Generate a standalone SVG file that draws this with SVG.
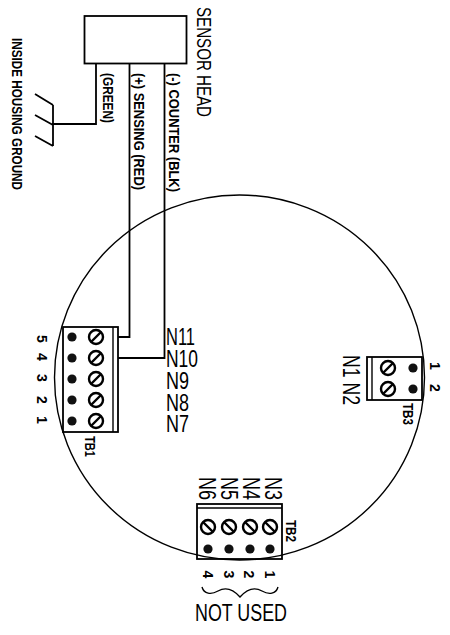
<svg xmlns="http://www.w3.org/2000/svg" width="450" height="635" viewBox="0 0 450 635">
<style>
.l{fill:none;stroke:#000;stroke-width:1.4}
.b{fill:none;stroke:#000;stroke-width:1.8}
text{font-family:"Liberation Sans",sans-serif;fill:#000}
.n{font-size:23.500px}
.h{font-size:15px;font-weight:bold}
.t{font-size:15px;font-weight:bold}
.d{font-size:14px;font-weight:bold;text-anchor:middle}
</style>
<rect width="450" height="635" fill="#fff"/>
<defs>
<g id="screw"><circle r="7" fill="#fff" stroke="#000" stroke-width="2.4"/><path d="M-5 5L5-5" stroke="#000" stroke-width="2.4"/></g>
<g id="screw2"><circle r="7" fill="#fff" stroke="#000" stroke-width="2.4"/><path d="M-5-5L5 5" stroke="#000" stroke-width="2.4"/></g>
<circle id="pin" r="4.600" fill="#111"/>
</defs>
<ellipse id="housing" cx="239.500" cy="377.500" rx="185" ry="182.500" class="l"/>
<g id="connectors">
<path class="b" d="M96 64V124H53"/>
<path class="b" d="M129.500 63V337H118"/>
<path class="b" d="M164.500 63V358H118"/>
<path class="b" d="M53 105V146M35 94L53 105M35 115L53 125M35 136L53 146"/>
</g>
<g id="sensor-head"><rect x="84.500" y="16" width="102" height="47.500" class="b"/>
<text transform="translate(197,7) rotate(90)" font-size="21" textLength="110" lengthAdjust="spacingAndGlyphs">SENSOR  HEAD</text></g>
<g id="labels">
<text class="h" transform="translate(12,38) rotate(90)" textLength="152" lengthAdjust="spacingAndGlyphs">INSIDE HOUSING GROUND</text>
<text class="h" transform="translate(103,73) rotate(90)" textLength="50" lengthAdjust="spacingAndGlyphs">(GREEN)</text>
<text class="h" transform="translate(134,73) rotate(90)" textLength="117" lengthAdjust="spacingAndGlyphs">(+) SENSING (RED)</text>
<text class="h" transform="translate(169,73) rotate(90)" textLength="119" lengthAdjust="spacingAndGlyphs">(-) COUNTER (BLK)</text>
</g>
<g id="TB1">
<rect x="63" y="327" width="55" height="105" class="b"/><path class="l" d="M113 327V432"/>
<use href="#pin" x="72" y="337"/><use href="#pin" x="72" y="358"/><use href="#pin" x="72" y="379"/><use href="#pin" x="72" y="400"/><use href="#pin" x="72" y="421"/>
<use href="#screw" x="96" y="337"/><use href="#screw" x="96" y="358"/><use href="#screw" x="96" y="379"/><use href="#screw" x="96" y="400"/><use href="#screw" x="96" y="421"/>
<text class="d" transform="translate(37,339) rotate(90)">5</text><text class="d" transform="translate(37,357) rotate(90)">4</text><text class="d" transform="translate(37,378) rotate(90)">3</text><text class="d" transform="translate(37,400) rotate(90)">2</text><text class="d" transform="translate(37,420) rotate(90)">1</text>
<text class="t" transform="translate(85,436) rotate(90)" textLength="21" lengthAdjust="spacingAndGlyphs">TB1</text>
</g>
<g id="N-labels" class="n"><text x="166" y="345" textLength="29" lengthAdjust="spacingAndGlyphs">N11</text><text x="166" y="367" textLength="32" lengthAdjust="spacingAndGlyphs">N10</text><text x="166" y="389" textLength="23" lengthAdjust="spacingAndGlyphs">N9</text><text x="166" y="411" textLength="23" lengthAdjust="spacingAndGlyphs">N8</text><text x="166" y="432" textLength="23" lengthAdjust="spacingAndGlyphs">N7</text></g>
<g id="TB2">
<rect x="197" y="504" width="85" height="55" class="b"/><path class="l" d="M197 508H282"/>
<use href="#screw2" x="208" y="527"/><use href="#screw2" x="229" y="527"/><use href="#screw2" x="250" y="527"/><use href="#screw2" x="270" y="527"/>
<use href="#pin" x="208" y="549"/><use href="#pin" x="229" y="549"/><use href="#pin" x="250" y="549"/><use href="#pin" x="270" y="549"/>
<text class="d" transform="translate(203,574.500) rotate(90)">4</text><text class="d" transform="translate(224,574.500) rotate(90)">3</text><text class="d" transform="translate(244,574.500) rotate(90)">2</text><text class="d" transform="translate(265,574.500) rotate(90)">1</text>
<text class="t" transform="translate(286,520) rotate(90)" textLength="22" lengthAdjust="spacingAndGlyphs">TB2</text>
<g class="n"><text transform="translate(199,477) rotate(90)" textLength="23" lengthAdjust="spacingAndGlyphs">N6</text><text transform="translate(221,477) rotate(90)" textLength="23" lengthAdjust="spacingAndGlyphs">N5</text><text transform="translate(243,477) rotate(90)" textLength="23" lengthAdjust="spacingAndGlyphs">N4</text><text transform="translate(265,477) rotate(90)" textLength="23" lengthAdjust="spacingAndGlyphs">N3</text></g>
<path class="l" d="M202 587C204 594 211 595 218 591C225 587 232 588 240 597C248 588 255 587 262 591C269 595 276 594 278 587"/>
<text class="n" x="195" y="621" textLength="92" lengthAdjust="spacingAndGlyphs">NOT USED</text>
</g>
<g id="TB3">
<rect x="367" y="357" width="55" height="43" class="b"/><path class="l" d="M372 357V400"/>
<use href="#screw" x="388" y="368"/><use href="#screw" x="388" y="389"/><use href="#pin" x="413" y="368"/><use href="#pin" x="413" y="389"/>
<text class="d" transform="translate(430,366) rotate(90)">1</text><text class="d" transform="translate(430,388) rotate(90)">2</text>
<text class="t" transform="translate(403,403) rotate(90)" textLength="22" lengthAdjust="spacingAndGlyphs">TB3</text>
<text class="n" transform="translate(343,355) rotate(90)" textLength="50" lengthAdjust="spacingAndGlyphs">N1 N2</text>
</g>
</svg>
